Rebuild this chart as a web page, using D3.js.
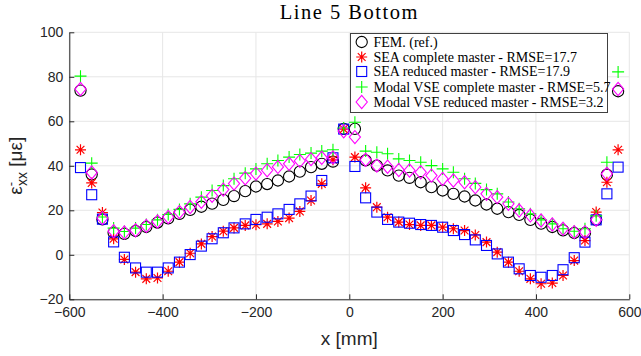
<!DOCTYPE html>
<html>
<head>
<meta charset="utf-8">
<script src="https://cdn.jsdelivr.net/npm/d3@7"></script>
<style>
  body { margin: 0; background: #fff; }
  svg { display: block; }
</style>
</head>
<body>
<div id="chart"></div>
<script>
// positions along the line [mm]
const xPos = [-576, -552, -529, -505, -482, -458, -435, -411, -388, -364, -341, -317, -294,
  -270, -247, -223, -200, -176, -153, -129, -106, -82, -59, -35, -12,
  12, 35, 59, 82, 106, 129, 153, 176, 200, 223, 247, 270, 294, 317, 341,
  364, 388, 411, 435, 458, 482, 505, 529, 552, 576];

const fem = [73.8, 36.1, 15.9, 9.9, 9.4, 10.7, 12.5, 14.5, 16.4, 18.4, 20.2, 21.6, 23.0,
  24.7, 26.4, 28.6, 30.7, 31.8, 33.4, 35.2, 37.4, 39.4, 40.9, 41.9, 56.6,
  56.6, 42.4, 40.1, 37.9, 35.6, 34.6, 32.6, 30.4, 28.9, 27.4, 26.2, 24.4, 22.6, 20.7, 19.2,
  17.9, 15.7, 14.0, 12.5, 11.0, 9.8, 9.8, 15.7, 36.0, 73.5];

const seaComplete = [47.2, 32.3, 19.0, 7.2, -2.1, -7.8, -10.8, -10.4, -7.4, -3.3, 0.7, 4.9, 8.2,
  10.6, 12.1, 13.2, 13.5, 13.9, 15.0, 16.5, 19.5, 24.4, 31.9, 42.7, 56.5,
  43.9, 30.1, 21.4, 16.9, 14.7, 13.6, 13.2, 13.2, 12.4, 11.7, 10.9, 8.9, 5.7, 1.2, -3.3,
  -7.4, -10.8, -13.0, -12.7, -9.3, -2.6, 6.4, 19.2, 32.6, 47.2];

const seaReduced = [39.2, 27.0, 16.0, 5.8, -1.1, -5.9, -7.8, -7.8, -5.9, -3.3, 0.1, 3.9, 7.2,
  9.9, 12.1, 13.9, 15.9, 16.9, 18.4, 20.4, 22.9, 26.4, 33.4, 43.6, 56.5,
  39.7, 25.6, 19.2, 15.9, 14.7, 14.2, 13.6, 13.2, 12.4, 10.9, 9.1, 6.7, 4.2, 0.4, -3.3,
  -6.3, -9.3, -10.1, -9.3, -6.7, -1.3, 5.7, 15.7, 27.4, 39.4];

const vseComplete = [80.3, 41.2, 17.0, 12.0, 10.5, 12.0, 13.6, 15.7, 18.1, 20.4, 22.9, 25.9, 28.9,
  31.1, 34.2, 36.7, 38.6, 40.9, 42.4, 43.9, 45.1, 45.7, 46.6, 47.2, 57.0,
  59.6, 46.6, 46.1, 45.4, 43.1, 42.4, 41.6, 40.1, 38.6, 37.1, 34.2, 32.1, 29.3, 27.4, 23.7,
  20.7, 18.4, 15.7, 13.9, 11.7, 10.6, 11.7, 17.5, 41.6, 82.2];

const vseReduced = [74.5, 37.0, 16.5, 10.6, 10.0, 11.0, 13.0, 15.0, 17.0, 19.2, 21.5, 23.8, 26.5,
  29.3, 32.0, 34.4, 36.5, 38.0, 39.5, 40.9, 42.2, 43.0, 43.6, 43.8, 55.5,
  52.9, 42.7, 40.1, 39.6, 38.1, 37.9, 37.1, 35.6, 34.1, 33.4, 32.6, 30.4, 27.4, 25.9, 22.9,
  19.9, 17.7, 15.4, 13.6, 11.7, 10.2, 10.2, 15.7, 36.4, 74.5];

const xTicks = [-600, -400, -200, 0, 200, 400, 600];
const yTicks = [-20, 0, 20, 40, 60, 80, 100];

const legendLabels = [
  'FEM. (ref.)',
  'SEA complete master - RMSE=17.7',
  'SEA reduced master - RMSE=17.9',
  'Modal VSE complete master - RMSE=5.7',
  'Modal VSE reduced master - RMSE=3.2'
];

const width = 641, height = 356;
const margin = { top: 32.3, right: 11.7, bottom: 56.7, left: 69.3 };

const svg = d3.select('#chart').append('svg')
  .attr('width', width)
  .attr('height', height);

const x = d3.scaleLinear().domain([-600, 600]).range([margin.left, width - margin.right]);
const y = d3.scaleLinear().domain([-20, 100]).range([height - margin.bottom, margin.top]);

// grid
const grid = svg.append('g').attr('stroke', '#e6e6e6').attr('stroke-width', 1);
grid.selectAll('.gx').data(xTicks).enter().append('line')
  .attr('x1', d => x(d)).attr('x2', d => x(d))
  .attr('y1', y(-20)).attr('y2', y(100));
grid.selectAll('.gy').data(yTicks).enter().append('line')
  .attr('x1', x(-600)).attr('x2', x(600))
  .attr('y1', d => y(d)).attr('y2', d => y(d));

// axes
const xAxis = svg.append('g')
  .attr('transform', `translate(0,${y(-20)})`)
  .call(d3.axisBottom(x).tickValues(xTicks).tickSizeInner(-5).tickSizeOuter(0).tickPadding(8));
const yAxis = svg.append('g')
  .attr('transform', `translate(${x(-600)},0)`)
  .call(d3.axisLeft(y).tickValues(yTicks).tickSizeInner(-5).tickSizeOuter(0).tickPadding(6));

[xAxis, yAxis].forEach(a => {
  a.selectAll('path, line').attr('stroke', '#262626');
  a.selectAll('text')
    .attr('fill', '#262626')
    .style('font-family', '"Liberation Sans", Arial, sans-serif')
    .style('font-size', '14px');
});

// marker shapes
const markers = {
  circle: (g, cx, cy) => g.append('circle').attr('cx', cx).attr('cy', cy).attr('r', 5.6)
    .attr('fill', 'none').attr('stroke', '#000').attr('stroke-width', 1.1),
  star: (g, cx, cy) => {
    const r = 5.5, q = r * 0.707;
    g.append('path')
      .attr('d', `M${cx - r},${cy}H${cx + r}M${cx},${cy - r}V${cy + r}` +
        `M${cx - q},${cy - q}L${cx + q},${cy + q}M${cx - q},${cy + q}L${cx + q},${cy - q}`)
      .attr('stroke', '#ff0000').attr('stroke-width', 1.2).attr('fill', 'none');
  },
  square: (g, cx, cy) => g.append('rect').attr('x', cx - 5).attr('y', cy - 5)
    .attr('width', 10).attr('height', 10)
    .attr('fill', 'none').attr('stroke', '#0000ff').attr('stroke-width', 1.1),
  plus: (g, cx, cy) => {
    const r = 6;
    g.append('path')
      .attr('d', `M${cx - r},${cy}H${cx + r}M${cx},${cy - r}V${cy + r}`)
      .attr('stroke', '#00ff00').attr('stroke-width', 1.1).attr('fill', 'none');
  },
  diamond: (g, cx, cy) => {
    const w = 5.6, h = 6.6;
    g.append('path')
      .attr('d', `M${cx},${cy - h}L${cx + w},${cy}L${cx},${cy + h}L${cx - w},${cy}Z`)
      .attr('stroke', '#ff00ff').attr('stroke-width', 1.1).attr('fill', 'none');
  }
};

const series = [
  { values: fem, marker: 'circle' },
  { values: seaComplete, marker: 'star' },
  { values: seaReduced, marker: 'square' },
  { values: vseComplete, marker: 'plus' },
  { values: vseReduced, marker: 'diamond' }
];

series.forEach(s => {
  const g = svg.append('g');
  s.values.forEach((v, i) => markers[s.marker](g, x(xPos[i]), y(v)));
});

// title
svg.append('text')
  .attr('x', x(0)).attr('y', 19)
  .attr('text-anchor', 'middle')
  .style('font-family', '"Liberation Serif", "Times New Roman", serif')
  .style('font-size', '20.5px')
  .style('letter-spacing', '1.5px')
  .text('Line 5 Bottom');

// x label
svg.append('text')
  .attr('x', x(0)).attr('y', 345)
  .attr('text-anchor', 'middle')
  .attr('fill', '#262626')
  .style('font-family', '"Liberation Sans", Arial, sans-serif')
  .style('font-size', '19px')
  .text('x [mm]');

// y label
const yl = svg.append('text')
  .attr('transform', `translate(22,${y(40)}) rotate(-90)`)
  .attr('text-anchor', 'middle')
  .attr('fill', '#262626')
  .style('font-family', '"Liberation Sans", Arial, sans-serif')
  .style('font-size', '19px');
yl.append('tspan').text('ε');
yl.append('tspan').attr('dy', -7).style('font-size', '13px').text('-');
yl.append('tspan').attr('dx', -4).attr('dy', 12).style('font-size', '14px').text('xx');
yl.append('tspan').attr('dy', -5).text(' [με]');

// legend
const lg = svg.append('g');
lg.append('rect')
  .attr('x', 350.5).attr('y', 33.5)
  .attr('width', 257).attr('height', 79)
  .attr('fill', '#fff').attr('stroke', '#404040').attr('stroke-width', 1);
const legendY = [42, 57, 71.5, 87, 102];
series.forEach((s, i) => {
  markers[s.marker](lg, 361.7, legendY[i]);
  lg.append('text')
    .attr('x', 373.5).attr('y', legendY[i] + 4.5)
    .style('font-family', '"Liberation Serif", "Times New Roman", serif')
    .style('font-size', '14px')
    .text(legendLabels[i]);
});
</script>
</body>
</html>
